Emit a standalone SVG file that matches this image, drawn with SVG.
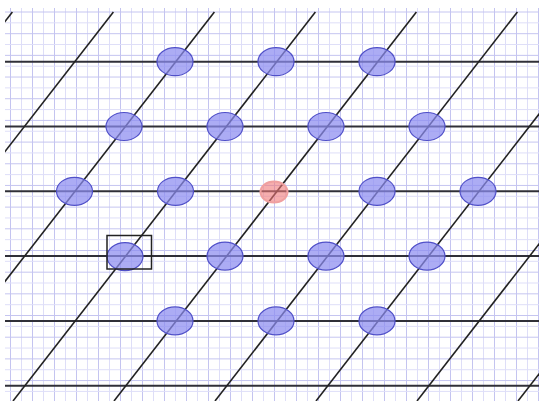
<svg xmlns="http://www.w3.org/2000/svg" width="539" height="401" viewBox="0 0 539 401">
<style>
.h{stroke:#303038;stroke-width:2;fill:none}
.d{stroke:#222;stroke-width:1.6;fill:none}
.pt{fill:#8c8cf0;fill-opacity:0.72;stroke:#5050c8;stroke-width:1.2}
.org{fill:#f07878;fill-opacity:0.6;stroke:#f0a0a0;stroke-width:2}
.box{fill:none;stroke:#222;stroke-width:1.5}
</style>
<defs>
<pattern id="grid" patternUnits="userSpaceOnUse" x="5" y="6.58" width="22" height="21.68">
<line x1="5.5" y1="0" x2="5.5" y2="21.68" stroke="#c4c4f0" stroke-width="1"/>
<line x1="16.5" y1="0" x2="16.5" y2="21.68" stroke="#dedef8" stroke-width="1"/>
<line x1="0" y1="5.42" x2="22" y2="5.42" stroke="#c4c4f0" stroke-width="1"/>
<line x1="0" y1="16.26" x2="22" y2="16.26" stroke="#dedef8" stroke-width="1"/>
</pattern>
<clipPath id="area"><rect x="5" y="11" width="534" height="390"/></clipPath>
</defs>
<rect width="539" height="401" fill="#ffffff"/>
<rect x="5" y="8" width="534" height="393" fill="url(#grid)"/>
<g id="connectors" clip-path="url(#area)">
<line class="h" x1="5" y1="61.7" x2="539" y2="61.7"/>
<line class="h" x1="5" y1="126.5" x2="539" y2="126.5"/>
<line class="h" x1="5" y1="191.3" x2="539" y2="191.3"/>
<line class="h" x1="5" y1="256.1" x2="539" y2="256.1"/>
<line class="h" x1="5" y1="320.9" x2="539" y2="320.9"/>
<line class="h" x1="5" y1="385.7" x2="539" y2="385.7"/>
<line class="d" x1="12.4" y1="12" x2="-290" y2="401"/>
<line class="d" x1="113.4" y1="12" x2="-189" y2="401"/>
<line class="d" x1="214.4" y1="12" x2="-88" y2="401"/>
<line class="d" x1="315.4" y1="12" x2="13" y2="401"/>
<line class="d" x1="416.4" y1="12" x2="114" y2="401"/>
<line class="d" x1="517.4" y1="12" x2="215" y2="401"/>
<line class="d" x1="618.4" y1="12" x2="316" y2="401"/>
<line class="d" x1="719.4" y1="12" x2="417" y2="401"/>
<line class="d" x1="820.4" y1="12" x2="518" y2="401"/>
</g>
<g id="n0-0"><ellipse class="pt" cx="175" cy="61.7" rx="18" ry="14"/></g>
<g id="n0-1"><ellipse class="pt" cx="276" cy="61.7" rx="18" ry="14"/></g>
<g id="n0-2"><ellipse class="pt" cx="377" cy="61.7" rx="18" ry="14"/></g>
<g id="n1-0"><ellipse class="pt" cx="124" cy="126.5" rx="18" ry="14"/></g>
<g id="n1-1"><ellipse class="pt" cx="225" cy="126.5" rx="18" ry="14"/></g>
<g id="n1-2"><ellipse class="pt" cx="326" cy="126.5" rx="18" ry="14"/></g>
<g id="n1-3"><ellipse class="pt" cx="427" cy="126.5" rx="18" ry="14"/></g>
<g id="n2-0"><ellipse class="pt" cx="74.5" cy="191.3" rx="18" ry="14"/></g>
<g id="n2-1"><ellipse class="pt" cx="175.5" cy="191.3" rx="18" ry="14"/></g>
<g id="origin"><ellipse class="org" cx="274" cy="192" rx="13.5" ry="10.5"/></g>
<g id="n2-3"><ellipse class="pt" cx="377" cy="191.3" rx="18" ry="14"/></g>
<g id="n2-4"><ellipse class="pt" cx="478" cy="191.3" rx="18" ry="14"/></g>
<g id="n3-0"><ellipse class="pt" cx="125" cy="256.6" rx="18" ry="14"/><rect class="box" x="107" y="235.5" width="44.5" height="33.5"/></g>
<g id="n3-1"><ellipse class="pt" cx="225" cy="256.1" rx="18" ry="14"/></g>
<g id="n3-2"><ellipse class="pt" cx="326" cy="256.1" rx="18" ry="14"/></g>
<g id="n3-3"><ellipse class="pt" cx="427" cy="256.1" rx="18" ry="14"/></g>
<g id="n4-0"><ellipse class="pt" cx="175" cy="320.9" rx="18" ry="14"/></g>
<g id="n4-1"><ellipse class="pt" cx="276" cy="320.9" rx="18" ry="14"/></g>
<g id="n4-2"><ellipse class="pt" cx="377" cy="320.9" rx="18" ry="14"/></g>
</svg>
